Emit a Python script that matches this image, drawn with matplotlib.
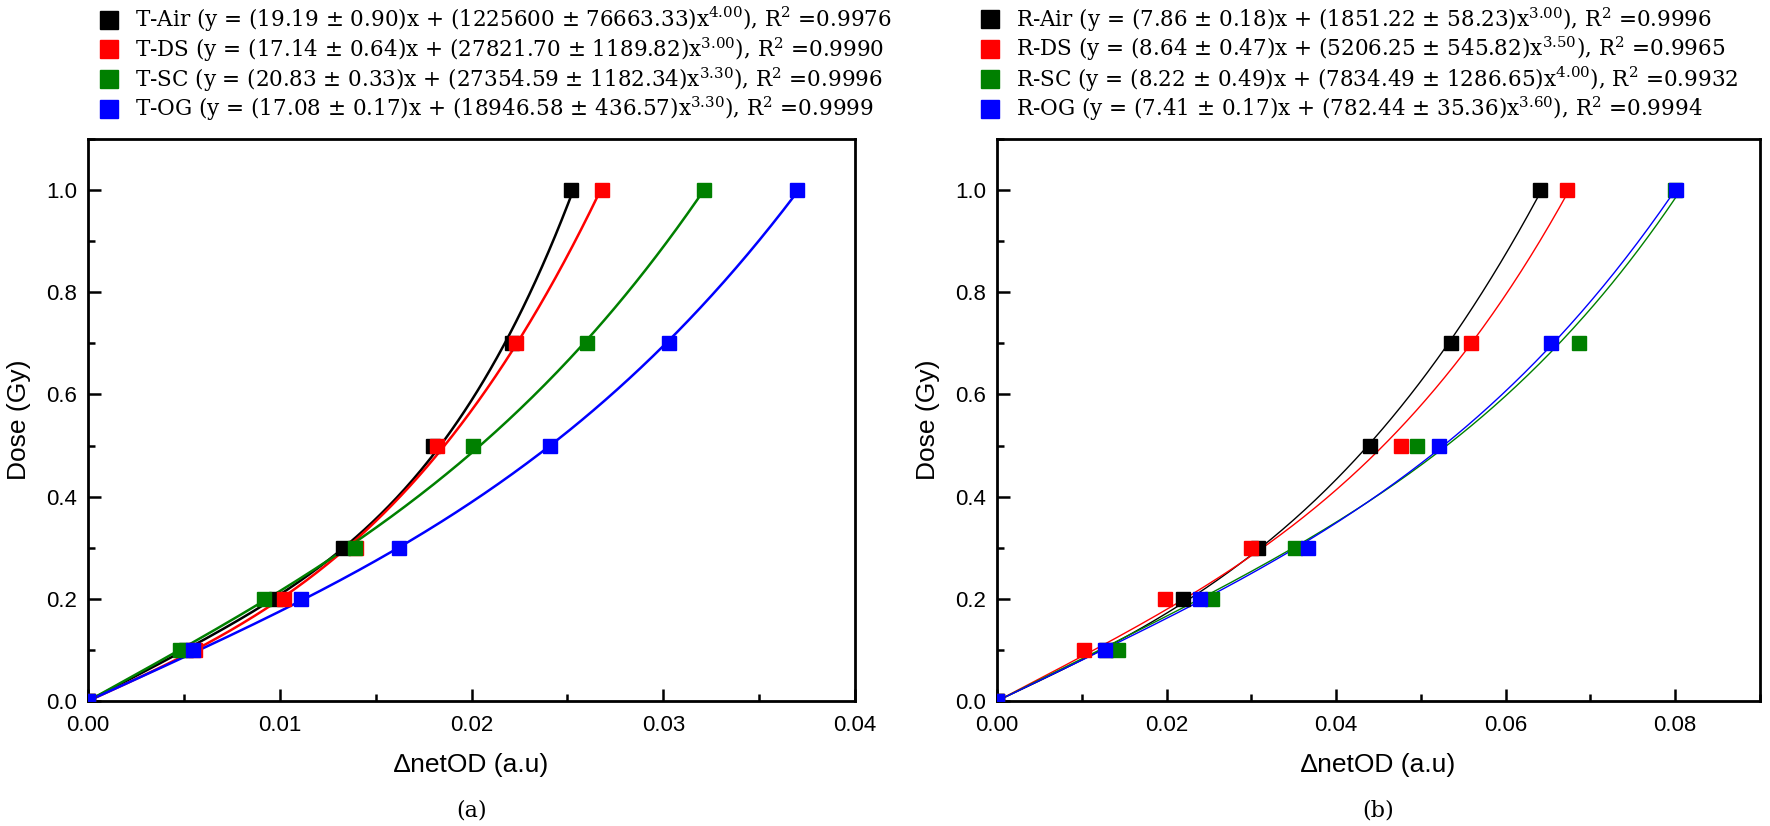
import numpy as np
import matplotlib
matplotlib.use("Agg")
import matplotlib.pyplot as plt
from matplotlib.ticker import MultipleLocator, FormatStrFormatter

plt.rcParams['font.family'] = ['Liberation Sans', 'DejaVu Sans']
plt.rcParams['mathtext.fontset'] = 'custom'
plt.rcParams['mathtext.rm'] = 'DejaVu Serif'

# dose levels (Gy)
dose = [0, 0.1, 0.2, 0.3, 0.5, 0.7, 1.0]

# netOD readings, panel (a)
t_air = [0, 0.0051, 0.0098, 0.0133, 0.0180, 0.0221, 0.0252]
t_ds = [0, 0.0056, 0.0102, 0.0140, 0.0182, 0.0223, 0.0268]
t_sc = [0, 0.0048, 0.0092, 0.0139, 0.0201, 0.0260, 0.0321]
t_og = [0, 0.0055, 0.0111, 0.0162, 0.0241, 0.0303, 0.0370]

# netOD readings, panel (b)
r_air = [0, 0.0128, 0.0219, 0.0308, 0.0440, 0.0535, 0.0641]
r_ds = [0, 0.0103, 0.0198, 0.0300, 0.0476, 0.0559, 0.0672]
r_sc = [0, 0.0143, 0.0254, 0.0352, 0.0495, 0.0686, 0.0800]
r_og = [0, 0.0127, 0.0239, 0.0367, 0.0521, 0.0654, 0.0801]

t_pow = [4.0, 3.0, 3.3, 3.3]
r_pow = [3.0, 3.5, 4.0, 3.6]

t_labels = [
    r"T-Air (y = (19.19 ± 0.90)x + (1225600 ± 76663.33)x$^{4.00}$), R$^{2}$ =0.9976",
    r"T-DS (y = (17.14 ± 0.64)x + (27821.70 ± 1189.82)x$^{3.00}$), R$^{2}$ =0.9990",
    r"T-SC (y = (20.83 ± 0.33)x + (27354.59 ± 1182.34)x$^{3.30}$), R$^{2}$ =0.9996",
    r"T-OG (y = (17.08 ± 0.17)x + (18946.58 ± 436.57)x$^{3.30}$), R$^{2}$ =0.9999",
]
r_labels = [
    r"R-Air (y = (7.86 ± 0.18)x + (1851.22 ± 58.23)x$^{3.00}$), R$^{2}$ =0.9996",
    r"R-DS (y = (8.64 ± 0.47)x + (5206.25 ± 545.82)x$^{3.50}$), R$^{2}$ =0.9965",
    r"R-SC (y = (8.22 ± 0.49)x + (7834.49 ± 1286.65)x$^{4.00}$), R$^{2}$ =0.9932",
    r"R-OG (y = (7.41 ± 0.17)x + (782.44 ± 35.36)x$^{3.60}$), R$^{2}$ =0.9994",
]
colors = ['black', '#ff0000', '#008000', '#0000ff']

W, H = 1770, 826
fig = plt.figure(figsize=(W / 100, H / 100), dpi=100)
ax1 = fig.add_axes([88 / W, 1 - 701 / H, (855 - 88) / W, (701 - 139) / H])
ax2 = fig.add_axes([997 / W, 1 - 701 / H, (1760 - 997) / W, (701 - 139) / H])


def fit_curve(x, y, p):
    # least squares for y = a*x + b*x^p
    x = np.asarray(x)
    A = np.column_stack([x, x ** p])
    coef = np.linalg.lstsq(A, np.asarray(y), rcond=None)[0]
    xs = np.linspace(0, x.max(), 300)
    return xs, coef[0] * xs + coef[1] * xs ** p


def panel(ax, series, pows, labels, lw, xmax, xmaj, xmin, tag, legx):
    handles = []
    for x, p, lab, c in zip(series, pows, labels, colors):
        xs, ys = fit_curve(x, dose, p)
        ax.plot(xs, ys, color=c, lw=lw, zorder=2)
        h, = ax.plot(x, dose, ls='none', marker='s', ms=9.5, color=c,
                     mec=c, label=lab, zorder=3)
        handles.append(h)
    ax.set_xlim(0, xmax)
    ax.set_ylim(0, 1.1)
    ax.xaxis.set_major_locator(MultipleLocator(xmaj))
    ax.xaxis.set_minor_locator(MultipleLocator(xmin))
    ax.xaxis.set_major_formatter(FormatStrFormatter('%.2f'))
    ax.yaxis.set_major_locator(MultipleLocator(0.2))
    ax.yaxis.set_minor_locator(MultipleLocator(0.1))
    ax.yaxis.set_major_formatter(FormatStrFormatter('%.1f'))
    ax.tick_params(which='both', direction='in', width=1.8, labelsize=16,
                   top=False, right=False)
    ax.tick_params(which='major', length=9)
    ax.tick_params(which='minor', length=5)
    ax.tick_params(axis='x', which='major', pad=10)
    ax.tick_params(axis='y', which='major', pad=8)
    for s in ax.spines.values():
        s.set_linewidth(2)
    ax.set_xlabel('∆netOD (a.u)', fontsize=19, labelpad=12)
    ax.set_ylabel('Dose (Gy)', fontsize=19, labelpad=11)
    ax.text(0.5, -0.195, tag, transform=ax.transAxes, ha='center', va='center',
            fontsize=16, family='DejaVu Serif')
    fig.legend(handles=handles, loc='upper left', bbox_to_anchor=(legx / W, 1 - 5 / H),
               bbox_transform=fig.transFigure,
               frameon=False, borderaxespad=0, borderpad=0, markerscale=1.35,
               handlelength=1.0, handletextpad=0.7, labelspacing=0.05,
               prop={'family': 'DejaVu Serif', 'size': 15.5})


panel(ax1, [t_air, t_ds, t_sc, t_og], t_pow, t_labels, 1.8, 0.04, 0.01, 0.005, '(a)', 98)
panel(ax2, [r_air, r_ds, r_sc, r_og], r_pow, r_labels, 1.0, 0.09, 0.02, 0.01, '(b)', 979)

fig.savefig('out.png', dpi=100)
